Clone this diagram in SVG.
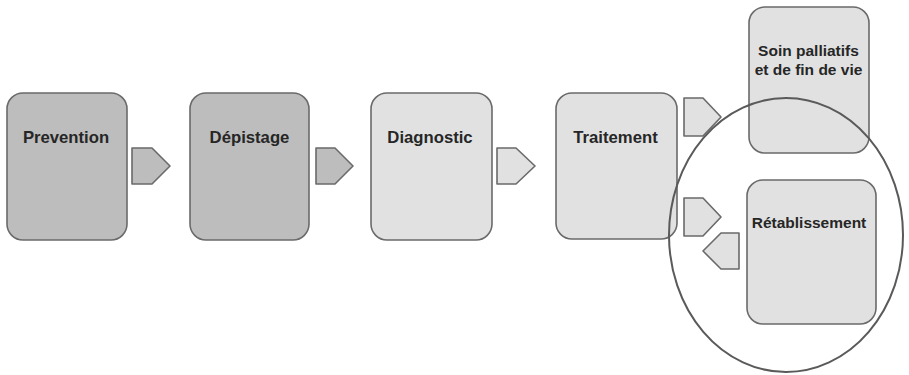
<svg xmlns="http://www.w3.org/2000/svg" width="909" height="375" viewBox="0 0 909 375">
<style>
.box{stroke:#6a6a6a;stroke-width:1.6}
.dark{fill:#bdbdbd}
.light{fill:#e1e1e1}
.arr{stroke:#6a6a6a;stroke-width:1.6;stroke-linejoin:round}
.t{font-family:"Liberation Sans",Arial,sans-serif;font-weight:bold;font-size:16.7px;fill:#262626;text-anchor:middle}
.s{font-size:15.5px}
</style>
<rect width="909" height="375" fill="#ffffff"/>
<g id="prevention"><rect class="box dark" x="7" y="93" width="120" height="147" rx="16"/><text class="t" x="66" y="143">Prevention</text></g>
<g id="depistage"><rect class="box dark" x="190" y="93" width="119" height="147" rx="16"/><text class="t" x="249.5" y="143">Dépistage</text></g>
<g id="diagnostic"><rect class="box light" x="371" y="93" width="121" height="147" rx="16"/><text class="t" x="430" y="143">Diagnostic</text></g>
<g id="traitement"><rect class="box light" x="556" y="93" width="121" height="146" rx="16"/><text class="t" x="615.5" y="143">Traitement</text></g>
<g id="soin"><rect class="box light" x="749" y="7" width="120" height="146" rx="16"/><text class="t s" x="808.5" y="56">Soin palliatifs</text><text class="t s" x="808.5" y="75">et de fin de vie</text></g>
<g id="retablissement"><rect class="box light" x="747" y="180" width="129" height="144" rx="16"/><text class="t s" x="809" y="228">Rétablissement</text></g>
<g id="connectors">
<polygon class="arr dark" points="132,148 152,148 170,166 152,184 132,184"/>
<polygon class="arr dark" points="316,148 335,148 353,166 335,184 316,184"/>
<polygon class="arr light" points="497,148 516,148 535,166 516,184 497,184"/>
<polygon class="arr light" points="684,98 703,98 721,117 703,136 684,136"/>
<polygon class="arr light" points="684,198 703,198 721,217 703,236 684,236"/>
<polygon class="arr light" points="739,233 739,269 721,269 703,251 721,233"/>
</g>
<ellipse cx="786" cy="235" rx="117" ry="137" fill="none" stroke="#5a5a5a" stroke-width="2"/>
</svg>
